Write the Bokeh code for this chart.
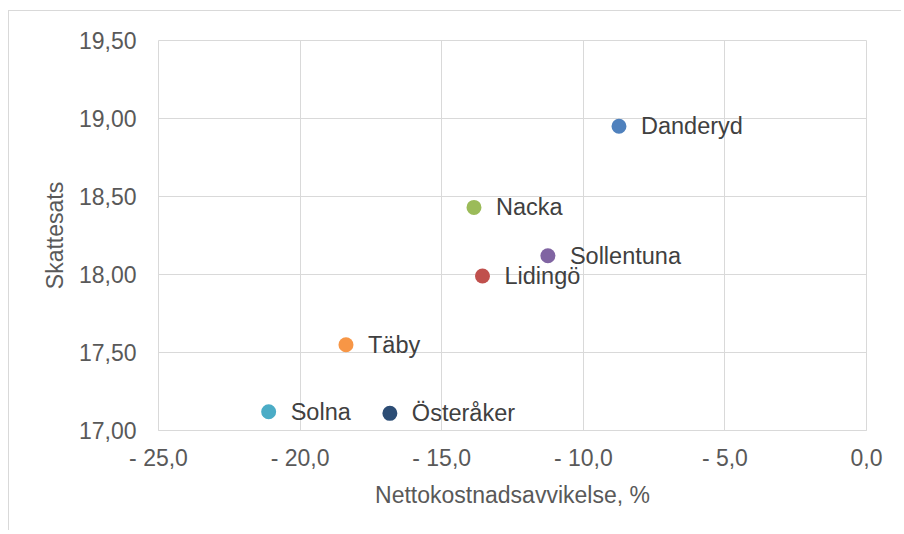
from bokeh.plotting import figure
from bokeh.models import Range1d, FixedTicker, ColumnDataSource
from bokeh.core.properties import value
from bokeh.embed import file_html
from bokeh.resources import INLINE

names = ["Danderyd", "Nacka", "Sollentuna", "Lidingö", "Täby", "Solna", "Österåker"]
nettokostnad = [-8.74, -13.86, -11.25, -13.56, -18.38, -21.11, -16.83]
skattesats = [18.95, 18.43, 18.12, 17.99, 17.55, 17.12, 17.11]
colors = ["#4F81BD", "#9BBB59", "#8064A2", "#C0504D", "#F79646", "#4BACC6", "#2C4D75"]

x_ticks = [-25, -20, -15, -10, -5, 0]
x_tick_labels = ["- 25,0", "- 20,0", "- 15,0", "- 10,0", "- 5,0", "0,0"]
y_ticks = [17.0, 17.5, 18.0, 18.5, 19.0, 19.5]
y_tick_labels = ["17,00", "17,50", "18,00", "18,50", "19,00", "19,50"]

FONT = "Liberation Sans"

src = ColumnDataSource(dict(x=nettokostnad, y=skattesats, name=names, color=colors))

p = figure(width=893, height=520, output_backend="svg", toolbar_location=None,
           x_range=Range1d(-25, 0), y_range=Range1d(17, 19.5),
           min_border_left=149, min_border_top=29, min_border_right=36, min_border_bottom=101)
p.styles = {"border-left": "1px solid #D9D9D9", "border-top": "1px solid #D9D9D9",
            "margin-left": "8px", "margin-top": "10px"}
p.outline_line_color = "#D9D9D9"
p.background_fill_color = "white"
p.border_fill_color = "white"

p.xaxis.ticker = FixedTicker(ticks=x_ticks)
p.yaxis.ticker = FixedTicker(ticks=y_ticks)
p.xaxis.major_label_overrides = {t: l for t, l in zip(x_ticks, x_tick_labels)}
p.yaxis.major_label_overrides = {t: l for t, l in zip(y_ticks, y_tick_labels)}

for ax in (p.xaxis, p.yaxis):
    ax.major_tick_line_color = None
    ax.minor_tick_line_color = None
    ax.major_label_text_font = FONT
    ax.major_label_text_font_size = "23px"
    ax.major_label_text_color = "#595959"
    ax.axis_label_text_font = FONT
    ax.axis_label_text_font_size = "23px"
    ax.axis_label_text_font_style = "normal"
    ax.axis_label_text_color = "#595959"
p.xaxis.axis_line_color = "#D9D9D9"
p.yaxis.axis_line_color = None
p.xaxis.major_label_standoff = 8
p.yaxis.major_label_standoff = 16
p.xaxis.axis_label = "Nettokostnadsavvikelse, %"
p.yaxis.axis_label = "Skattesats"
p.xaxis.axis_label_standoff = 8
p.yaxis.axis_label_standoff = 8

p.xgrid.ticker = FixedTicker(ticks=x_ticks)
p.ygrid.ticker = FixedTicker(ticks=y_ticks)
p.grid.grid_line_color = "#D9D9D9"
p.grid.grid_line_width = 1

p.scatter("x", "y", source=src, size=15, fill_color="color", line_color=None)
p.text("x", "y", text="name", source=src, x_offset=22, y_offset=0,
       text_align="left", text_baseline="middle",
       text_font=value(FONT), text_font_size="23.5px", text_color="#404040")

open("out.html", "w").write(file_html(p, INLINE))
